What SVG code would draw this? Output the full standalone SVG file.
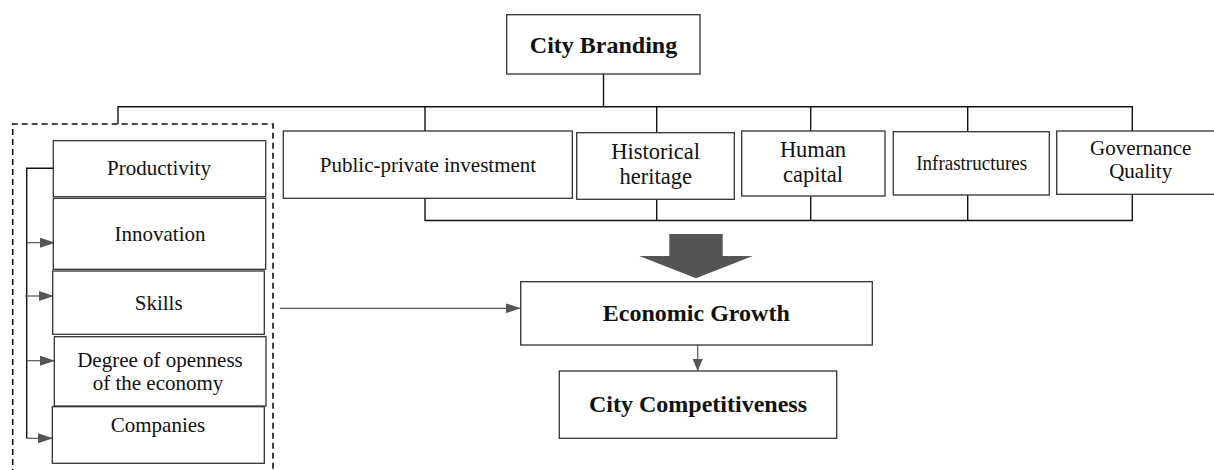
<svg xmlns="http://www.w3.org/2000/svg" width="1214" height="470" viewBox="0 0 1214 470">
<defs>
<style>
.box{fill:#fff;stroke:#333;stroke-width:1.3}
.ln{fill:none;stroke:#111;stroke-width:1.4}
.gl{fill:none;stroke:#555;stroke-width:1.2}
.t{font-family:"Liberation Serif","Times New Roman",serif;font-size:21px;fill:#111;text-anchor:middle}
.tb{font-family:"Liberation Serif","Times New Roman",serif;font-size:24px;font-weight:bold;fill:#111;text-anchor:middle}
.tl{font-size:22.5px}
</style>
<marker id="ah" markerWidth="15" markerHeight="10" refX="15" refY="5" orient="auto" markerUnits="userSpaceOnUse">
<path d="M0,0 L15,5 L0,10 Z" fill="#555"/>
</marker>
<marker id="ahd" markerWidth="12" markerHeight="10" refX="12" refY="5" orient="auto" markerUnits="userSpaceOnUse">
<path d="M0,0 L12,5 L0,10 Z" fill="#555"/>
</marker>
</defs>
<rect width="1214" height="470" fill="#fff"/>

<g id="connectors">
<path class="ln" d="M603.5,74 V106.7 M118,124 V106.7 H1132.3 V131"/>
<path class="ln" d="M425,106.7 V131 M656.7,106.7 V132.7 M810.7,106.7 V131 M967.7,106.7 V131.7"/>
<path class="ln" d="M425,198.3 V220.5 H1132.3 V194.3 M656.7,199.3 V220.5 M810.7,196 V220.5 M967.7,195 V220.5"/>
<path class="ln" d="M53.3,168.3 H26.7 V438.3"/>
<path class="gl" d="M26.7,242.7 H55" marker-end="url(#ah)"/>
<path class="gl" d="M25,296 H54" marker-end="url(#ah)"/>
<path class="gl" d="M26.7,360.7 H55" marker-end="url(#ah)"/>
<path class="gl" d="M26.7,438.3 H53" marker-end="url(#ah)"/>
<path class="gl" d="M280,308.3 H520.7" marker-end="url(#ah)"/>
<path class="gl" d="M697.7,345 V371" marker-end="url(#ahd)"/>
<polygon points="669.3,234 722.7,234 722.7,256 752.7,256 696,278.3 639.3,256 669.3,256" fill="#555"/>
</g>

<g id="group-box">
<path d="M12.7,475 V124 H273 V475" fill="none" stroke="#111" stroke-width="1.6" stroke-dasharray="6,4"/>
</g>

<g id="city-branding">
<rect class="box" x="506.7" y="14.7" width="193.3" height="59.3"/>
<text class="tb" x="603.5" y="52.7">City Branding</text>
</g>

<g id="public-private">
<rect class="box" x="283.3" y="131" width="289" height="67.3"/>
<text class="t" x="428" y="171.7">Public-private investment</text>
</g>

<g id="historical">
<rect class="box" x="576.7" y="132.7" width="157.6" height="66.6"/>
<text class="t tl" x="655.7" y="158.7">Historical<tspan x="655.7" dy="25">heritage</tspan></text>
</g>

<g id="human">
<rect class="box" x="741.7" y="131" width="143.3" height="65"/>
<text class="t tl" x="813" y="157.3">Human<tspan x="813" dy="25">capital</tspan></text>
</g>

<g id="infrastructures">
<rect class="box" x="893.3" y="131.7" width="156" height="63.3"/>
<text class="t" x="971.7" y="170" font-size="19" textLength="111" lengthAdjust="spacingAndGlyphs">Infrastructures</text>
</g>

<g id="governance">
<rect class="box" x="1056.7" y="131" width="160" height="63.3"/>
<text class="t" x="1140.7" y="155" font-size="20">Governance<tspan x="1140.7" dy="22.5">Quality</tspan></text>
</g>

<g id="productivity">
<rect class="box" x="53.3" y="140.7" width="212.4" height="56"/>
<text class="t" x="159" y="175">Productivity</text>
</g>

<g id="innovation">
<rect class="box" x="53.3" y="198.3" width="212.4" height="71"/>
<text class="t" x="160" y="240.7">Innovation</text>
</g>

<g id="skills">
<rect class="box" x="52.7" y="271" width="211.6" height="63.3"/>
<text class="t" x="158.7" y="310">Skills</text>
</g>

<g id="openness">
<rect class="box" x="54.3" y="336.7" width="211.7" height="69.3"/>
<text class="t" x="160" y="366.8" font-size="20.5">Degree of openness<tspan x="158" dy="23">of the economy</tspan></text>
</g>

<g id="companies">
<rect class="box" x="52.3" y="406.7" width="212" height="56.6"/>
<text class="t" x="158" y="431.7">Companies</text>
</g>

<g id="economic-growth">
<rect class="box" x="520.7" y="281.7" width="351.6" height="63.3"/>
<text class="tb" x="696.3" y="320.7">Economic Growth</text>
</g>

<g id="city-competitiveness">
<rect class="box" x="559.3" y="371" width="277.4" height="67.3"/>
<text class="tb" x="698" y="412.3">City Competitiveness</text>
</g>
</svg>
